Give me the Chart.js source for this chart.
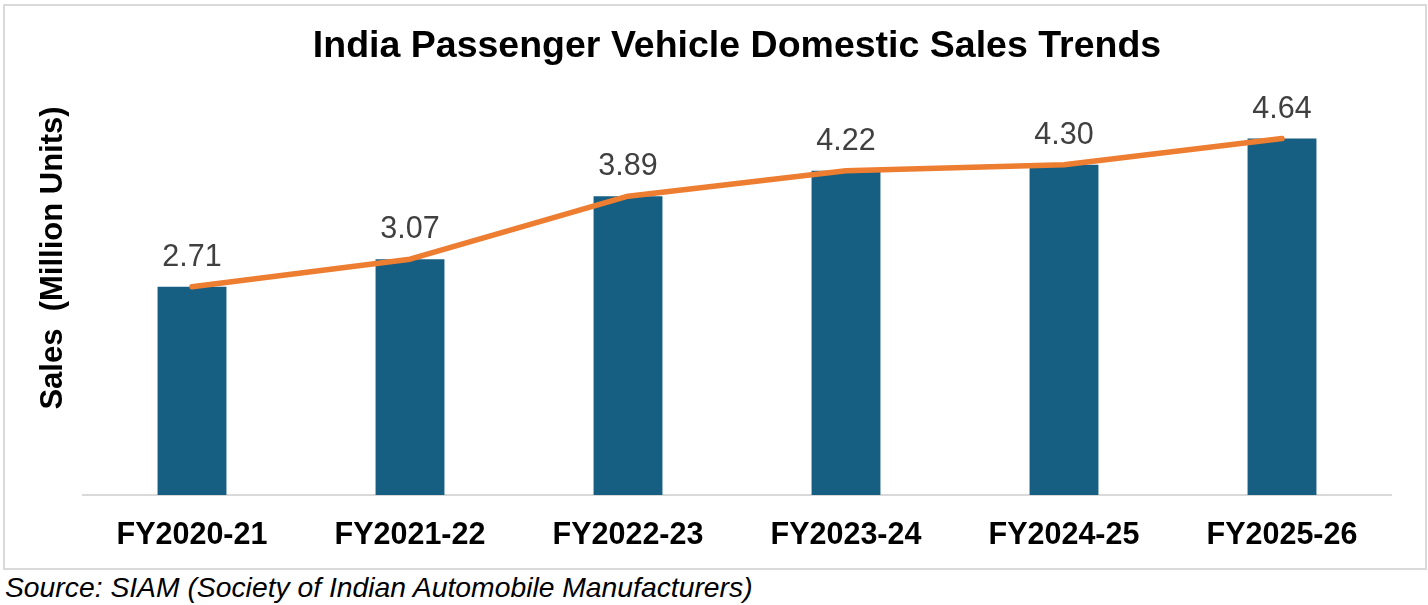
<!DOCTYPE html>
<html>
<head>
<meta charset="utf-8">
<script src="https://cdn.jsdelivr.net/npm/chart.js@4.4.1/dist/chart.umd.min.js"></script>
<style>
  body { margin: 0; background: #fff; }
  #frame {
    position: absolute; left: 3px; top: 4px;
    width: 1424px; height: 566px;
    border: 2px solid #d9d9d9; box-sizing: border-box;
  }
  #source {
    position: absolute; left: 5px; top: 573px;
    font: italic 28.3px 'Liberation Sans', Arial, sans-serif;
    line-height: 28px; color: #000; white-space: nowrap;
  }
</style>
</head>
<body>
<div id="frame"><canvas id="salesChart" width="1420" height="562"></canvas></div>
<div id="source">Source: SIAM (Society of Indian Automobile Manufacturers)</div>
<script>
const years = ["FY2020-21", "FY2021-22", "FY2022-23", "FY2023-24", "FY2024-25", "FY2025-26"];
const sales = [2.71, 3.07, 3.89, 4.22, 4.30, 4.64];
const trend = [2.71, 3.07, 3.89, 4.22, 4.30, 4.64];

const FONT = "'Liberation Sans', Arial, sans-serif";

// value labels above the bars
const barLabels = {
    id: 'barLabels',
    afterDatasetsDraw(chart) {
        const ctx = chart.ctx;
        const meta = chart.getDatasetMeta(0 + 1);
        ctx.save();
        ctx.font = '30.5px ' + FONT;
        ctx.fillStyle = '#404040';
        ctx.textAlign = 'center';
        ctx.textBaseline = 'alphabetic';
        meta.data.forEach((bar, i) => {
            ctx.fillText(sales[i].toFixed(2), bar.x, bar.y - 21);
        });
        ctx.restore();
    }
};

let ctx = document.getElementById('salesChart').getContext('2d');

let chart = new Chart(ctx, {
    data: {
        labels: years,
        datasets: [
            {
                type: 'line',
                label: 'Trend',
                data: trend,
                borderColor: '#ED7D31',
                borderWidth: 5.5,
                borderCapStyle: 'round',
                borderJoinStyle: 'round',
                pointRadius: 0,
                tension: 0,
                order: 0
            },
            {
                type: 'bar',
                label: 'Sales',
                data: sales,
                backgroundColor: '#175F82',
                barPercentage: 0.316,
                categoryPercentage: 1,
                order: 1
            }
        ]
    },
    options: {
        responsive: false,
        animation: false,
        layout: { padding: { left: 0, right: 34, top: 0, bottom: 0 } },
        plugins: {
            legend: { display: false },
            tooltip: { enabled: false },
            title: {
                display: true,
                text: 'India Passenger Vehicle Domestic Sales Trends',
                fullSize: false,
                color: '#000',
                font: { family: FONT, size: 37.5, weight: 'bold' },
                padding: { top: 18, bottom: -48 }
            }
        },
        scales: {
            x: {
                grid: { display: false },
                border: { color: '#d9d9d9', width: 2 },
                ticks: {
                    color: '#000',
                    padding: 14,
                    font: { family: FONT, size: 30.5, weight: 'bold' }
                },
                afterFit(axis) { axis.height = 73; }
            },
            y: {
                min: 0,
                max: 6.17,
                grid: { display: false },
                border: { display: false },
                ticks: { display: false },
                title: {
                    display: true,
                    text: 'Sales  (Million Units)',
                    color: '#000',
                    font: { family: FONT, size: 31, weight: 'bold' },
                    padding: { top: 30, bottom: 0 }
                },
                afterFit(axis) { axis.width = 78; }
            }
        }
    },
    plugins: [barLabels]
});
</script>
</body>
</html>
